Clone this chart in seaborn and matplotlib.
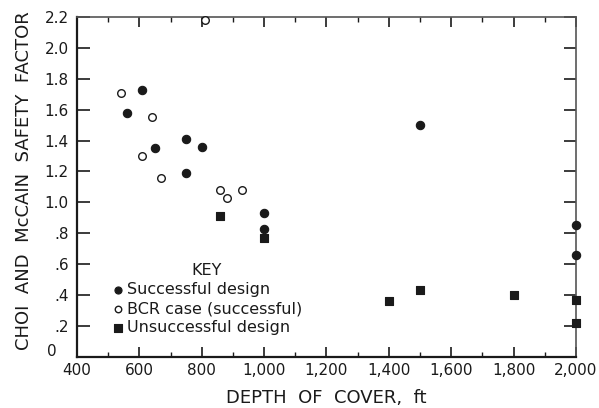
import matplotlib
matplotlib.use("Agg")
import matplotlib.pyplot as plt
from matplotlib.ticker import MultipleLocator, FuncFormatter
import seaborn as sns
import pandas as pd

# Successful design
succ_depth = [610, 560, 650, 750, 800, 750, 1500, 1000, 1000, 2000, 2000]
succ_sf = [1.73, 1.58, 1.35, 1.41, 1.36, 1.19, 1.50, 0.93, 0.83, 0.85, 0.66]

# BCR case (successful)
bcr_depth = [540, 640, 610, 670, 810, 860, 880, 930]
bcr_sf = [1.71, 1.55, 1.30, 1.16, 2.18, 1.08, 1.03, 1.08]

# Unsuccessful design
fail_depth = [860, 1000, 1400, 1500, 1800, 2000, 2000]
fail_sf = [0.91, 0.77, 0.36, 0.43, 0.40, 0.37, 0.22]

labels = ["Successful design", "BCR case (successful)", "Unsuccessful design"]

df = pd.concat([
    pd.DataFrame({"depth": succ_depth, "sf": succ_sf, "kind": labels[0]}),
    pd.DataFrame({"depth": bcr_depth, "sf": bcr_sf, "kind": labels[1]}),
    pd.DataFrame({"depth": fail_depth, "sf": fail_sf, "kind": labels[2]}),
])

sns.set_theme(style="white")
plt.rcParams["font.family"] = ["DejaVu Sans"]
ink = "#1a1a1a"

fig = plt.figure(figsize=(5.99, 4.08), dpi=100)
ax = fig.add_axes([0.1285, 0.1257, 0.833, 0.8326])

styles = {
    labels[0]: dict(marker="o", s=36, color=ink, edgecolor=ink, linewidth=0.8),
    labels[1]: dict(marker="o", s=30, color="white", edgecolor=ink, linewidth=1.0),
    labels[2]: dict(marker="s", s=36, color=ink, edgecolor=ink, linewidth=0.8),
}
for k in labels:
    sub = df[df["kind"] == k]
    sns.scatterplot(data=sub, x="depth", y="sf", ax=ax, label=k,
                    zorder=3, clip_on=False, **styles[k])

ax.set_xlim(400, 2000)
ax.set_ylim(0, 2.2)

ax.xaxis.set_major_locator(MultipleLocator(200))
ax.xaxis.set_minor_locator(MultipleLocator(100))
ax.yaxis.set_major_locator(MultipleLocator(0.2))

def xfmt(v, pos):
    return f"{int(round(v)):,}"

def yfmt(v, pos):
    # the origin label is placed separately, off the corner
    if abs(v) < 1e-9:
        return ""
    s = f"{v:.1f}"
    if v < 1:
        s = s[1:]
    return s

ax.xaxis.set_major_formatter(FuncFormatter(xfmt))
ax.yaxis.set_major_formatter(FuncFormatter(yfmt))

ax.tick_params(axis="both", which="major", direction="in", width=1.2,
               color=ink, labelcolor=ink, labelsize=11, top=True, right=True,
               bottom=True, left=True, pad=6)
ax.tick_params(axis="x", which="major", length=7.5, pad=4.5)
ax.tick_params(axis="y", which="major", length=9)
ax.tick_params(axis="x", which="minor", direction="in", length=3.8, width=1.0,
               color=ink, top=True, bottom=True)

# "0" for the y origin, set up and to the left of the corner
ax.annotate("0", xy=(0, 0), xycoords="axes fraction", xytext=(-18, 4),
            textcoords="offset points", ha="center", va="center",
            fontsize=11, color=ink)

for sp in ax.spines.values():
    sp.set_color(ink)
    sp.set_linewidth(1.6)
ax.spines["top"].set_linewidth(1.2)
ax.spines["right"].set_linewidth(1.2)
ax.spines["top"].set_color("#555555")
ax.spines["right"].set_color("#555555")

ax.set_xlabel("DEPTH  OF  COVER,  ft", fontsize=13, color=ink, labelpad=8)
ax.set_ylabel("CHOI  AND  McCAIN  SAFETY  FACTOR", fontsize=13, color=ink, labelpad=8)
ax.yaxis.label.set_y(0.518)

leg = ax.legend(title="KEY", loc="lower left", bbox_to_anchor=(0.057, 0.045),
                frameon=False, fontsize=11.5, title_fontsize=11.5,
                handletextpad=0.15, labelspacing=0.25, borderaxespad=0,
                handlelength=0.8, markerscale=0.85)
for t in leg.get_texts():
    t.set_color(ink)
leg.get_title().set_color(ink)

fig.savefig("out.png", dpi=100, facecolor="white")
